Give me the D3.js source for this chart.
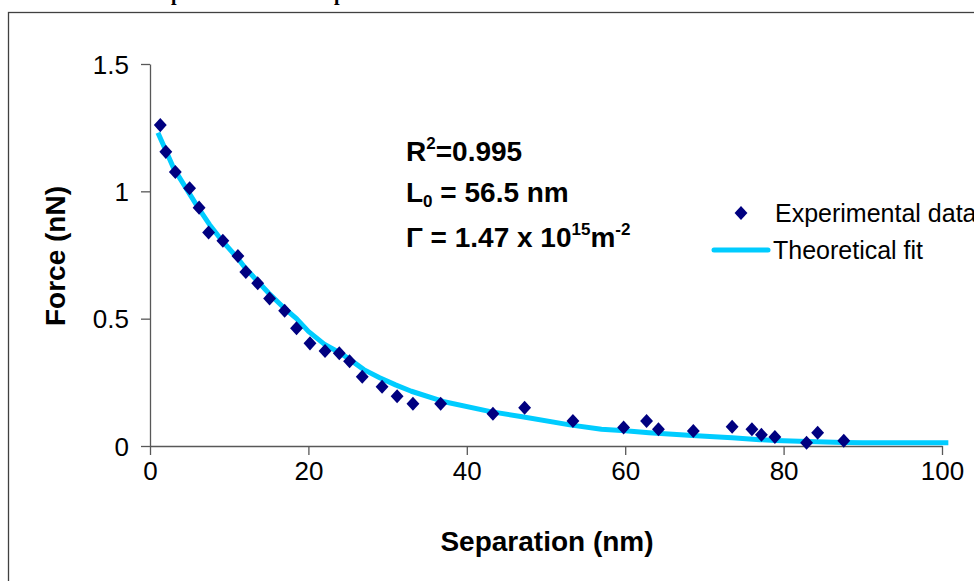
<!DOCTYPE html>
<html>
<head>
<meta charset="utf-8">
<script src="https://cdn.jsdelivr.net/npm/d3@7"></script>
<style>
  body { margin: 0; background: #fff; }
  svg { display: block; }
  text { font-family: Arial, "Liberation Sans", sans-serif; fill: #000; }
</style>
</head>
<body>
<svg id="chart" width="974" height="581"></svg>
<script>
// experimental points (separation nm, force nN)
var sepData = [1.3, 2.0, 3.2, 5.0, 6.2, 7.4, 9.2, 11.1, 12.1, 13.6, 15.1, 17.0, 18.5, 20.2, 22.1, 23.9, 25.2, 26.8, 29.3, 31.2, 33.2, 36.7, 43.3, 47.3, 53.4, 59.8, 62.7, 64.2, 68.6, 73.5, 76.0, 77.2, 78.9, 82.9, 84.3, 87.6]
var forceData = [1.26, 1.155, 1.076, 1.012, 0.936, 0.838, 0.806, 0.746, 0.683, 0.639, 0.579, 0.531, 0.462, 0.403, 0.373, 0.364, 0.333, 0.272, 0.233, 0.195, 0.166, 0.166, 0.127, 0.150, 0.098, 0.073, 0.098, 0.066, 0.059, 0.076, 0.066, 0.044, 0.035, 0.013, 0.052, 0.021]

// theoretical fit curve
var fitSep = [1, 2, 3, 5, 6, 7.5, 9, 11, 12, 13.5, 15, 17, 18.5, 20, 22, 24, 25, 27, 29, 31, 33, 37, 43, 47, 53, 57, 60, 63, 69, 73.5, 77, 79, 83, 87.5, 90, 95, 100.8]
var fitForce = [1.23, 1.16, 1.09, 0.99, 0.94, 0.87, 0.81, 0.74, 0.70, 0.65, 0.60, 0.54, 0.50, 0.45, 0.40, 0.365, 0.345, 0.30, 0.268, 0.24, 0.215, 0.175, 0.135, 0.115, 0.083, 0.066, 0.06, 0.052, 0.04, 0.032, 0.025, 0.022, 0.018, 0.014, 0.013, 0.013, 0.013]

var xTicks = [0, 20, 40, 60, 80, 100]
var yTicks = [0, 0.5, 1, 1.5]

function chart(){
	var svg = d3.select('svg#chart')

	// cut-off caption above the frame
	var cap = svg.append('text')
		.style('font-family', '"Liberation Serif", "Times New Roman", serif')
		.style('font-weight', 'bold')
		.style('font-size', '20px')
		.attr('y', 0)
	cap.append('tspan').attr('x', 171).text('p')
	cap.append('tspan').attr('x', 334).text('p')

	// outer frame
	svg.append('rect')
		.attr('x', 8.5).attr('y', 12.5)
		.attr('width', 1200).attr('height', 800)
		.style('fill', 'none')
		.style('stroke', '#404040')
		.style('stroke-width', 1.3)

	var x = d3.scaleLinear().domain([0, 100]).range([150, 942])
	var y = d3.scaleLinear().domain([0, 1.5]).range([446, 64])

	var xAxis = svg.append('g')
		.attr('transform', 'translate(0,446)')
		.call(d3.axisBottom(x).tickValues(xTicks).tickSize(9).tickSizeOuter(0).tickPadding(8).tickFormat(d3.format('d')))
	var yAxis = svg.append('g')
		.attr('transform', 'translate(150,0)')
		.call(d3.axisLeft(y).tickValues(yTicks).tickSize(9).tickSizeOuter(0).tickPadding(12).tickFormat(function(d){return String(d)}))

	;[xAxis, yAxis].forEach(function(a){
		a.select('.domain').style('stroke', '#585858').style('stroke-width', 1.3)
		a.selectAll('.tick line').style('stroke', '#585858').style('stroke-width', 1.3)
		a.selectAll('.tick text')
			.style('font-family', 'Arial, "Liberation Sans", sans-serif')
			.style('font-size', '26px')
			.style('fill', '#000')
	})
	xAxis.selectAll('.tick text').attr('dy', '0.71em').attr('y', 16)
	yAxis.selectAll('.tick text').attr('dy', '0.35em')

	// axis titles
	svg.append('text')
		.attr('x', 547).attr('y', 551)
		.attr('text-anchor', 'middle')
		.style('font-weight', 'bold')
		.style('font-size', '28px')
		.text('Separation (nm)')
	svg.append('text')
		.attr('transform', 'translate(65,256) rotate(-90)')
		.attr('text-anchor', 'middle')
		.style('font-weight', 'bold')
		.style('font-size', '28px')
		.text('Force (nN)')

	// fit line
	var fit = fitSep.map(function(s, i){return {s: s, f: fitForce[i]}})
	var line = d3.line()
		.x(function(d){return x(d.s)})
		.y(function(d){return y(d.f)})
	svg.append('path')
		.datum(fit)
		.attr('d', line)
		.style('fill', 'none')
		.style('stroke', '#00CCFF')
		.style('stroke-width', 5)
		.style('stroke-linejoin', 'round')

	// experimental points
	var diamond = {
		draw: function(ctx, size){
			var h = Math.sqrt(size) * 0.72, w = Math.sqrt(size) * 0.66
			ctx.moveTo(0, -h); ctx.lineTo(w, 0); ctx.lineTo(0, h); ctx.lineTo(-w, 0); ctx.closePath()
		}
	}
	var sym = d3.symbol().type(diamond).size(95)
	var pts = sepData.map(function(s, i){return {s: s, f: forceData[i]}})
	svg.selectAll('path.pt')
		.data(pts)
		.enter()
		.append('path')
		.attr('class', 'pt')
		.attr('transform', function(d){return 'translate(' + x(d.s) + ',' + y(d.f) + ')'})
		.attr('d', sym)
		.style('fill', '#000080')

	// annotations
	var ann = svg.append('g').style('font-weight', 'bold').style('font-size', '28px')
	var t1 = ann.append('text').attr('x', 406).attr('y', 161)
	t1.append('tspan').text('R')
	t1.append('tspan').attr('dy', -12).style('font-size', '17px').text('2')
	t1.append('tspan').attr('dy', 12).text('=0.995')
	var t2 = ann.append('text').attr('x', 406).attr('y', 202)
	t2.append('tspan').text('L')
	t2.append('tspan').attr('dy', 5).style('font-size', '17px').text('0')
	t2.append('tspan').attr('dy', -5).text(' = 56.5 nm')
	var t3 = ann.append('text').attr('x', 406).attr('y', 247)
	t3.append('tspan').text('Γ = 1.47 x 10')
	t3.append('tspan').attr('dy', -12).style('font-size', '17px').text('15')
	t3.append('tspan').attr('dy', 12).text('m')
	t3.append('tspan').attr('dy', -12).style('font-size', '17px').text('-2')

	// legend
	var lg = svg.append('g')
	lg.append('path')
		.attr('transform', 'translate(741,213)')
		.attr('d', sym)
		.style('fill', '#000080')
	lg.append('text').attr('x', 775).attr('y', 222).style('font-size', '25px').text('Experimental data')
	lg.append('line')
		.attr('x1', 714).attr('x2', 768).attr('y1', 250).attr('y2', 250)
		.style('stroke', '#00CCFF').style('stroke-width', 5).style('stroke-linecap', 'round')
	lg.append('text').attr('x', 773).attr('y', 259).style('font-size', '25px').text('Theoretical fit')
}
chart()
</script>
</body>
</html>
